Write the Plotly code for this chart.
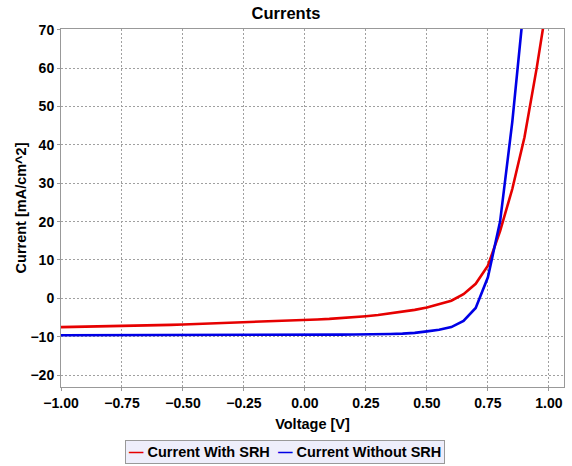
import plotly.graph_objects as go

# voltage steps (V)
voltage = [-1.00, -0.95, -0.90, -0.85, -0.80, -0.75, -0.70, -0.65, -0.60, -0.55,
           -0.50, -0.45, -0.40, -0.35, -0.30, -0.25, -0.20, -0.15, -0.10, -0.05,
           0.00, 0.05, 0.10, 0.15, 0.20, 0.25, 0.30, 0.35, 0.40, 0.45,
           0.50, 0.55, 0.60, 0.65, 0.70, 0.75, 0.80, 0.85, 0.90, 0.95, 1.00]

# current density (mA/cm^2)
with_srh = [-7.5, -7.45, -7.4, -7.35, -7.3, -7.2, -7.15, -7.05, -7.0, -6.9,
            -6.8, -6.7, -6.6, -6.5, -6.4, -6.3, -6.2, -6.05, -5.95, -5.8,
            -5.7, -5.5, -5.35, -5.15, -4.9, -4.65, -4.35, -3.95, -3.5, -3.0,
            -2.4, -1.6, -0.6, 1.1, 3.8, 8.5, 17.5, 28.5, 42.0, 60.0, 80.0]
without_srh = [-9.6, -9.6, -9.6, -9.6, -9.6, -9.6, -9.6, -9.6, -9.6, -9.6,
               -9.6, -9.6, -9.55, -9.55, -9.55, -9.55, -9.55, -9.5, -9.5, -9.5,
               -9.5, -9.5, -9.45, -9.45, -9.4, -9.4, -9.35, -9.3, -9.2, -9.0,
               -8.6, -8.2, -7.5, -5.9, -2.5, 5.5, 20.0, 46.0, 78.0, 125.0, 200.0]

x_ticks = [-1.0, -0.75, -0.5, -0.25, 0.0, 0.25, 0.5, 0.75, 1.0]
y_ticks = [-20, -10, 0, 10, 20, 30, 40, 50, 60, 70]

names = ['Current With SRH', 'Current Without SRH']
colors = ['#E60000', '#0000E6']

fig = go.Figure()

fig.add_trace(go.Scatter(x=voltage, y=with_srh, mode='lines', name=names[0],
                         line=dict(color=colors[0], width=2.6)))
fig.add_trace(go.Scatter(x=voltage, y=without_srh, mode='lines', name=names[1],
                         line=dict(color=colors[1], width=2.6)))

font_b = 'Liberation Sans'
axis_common = dict(
    showgrid=True, gridcolor='#A0A0A0', griddash='2px,2px', gridwidth=1,
    showline=True, linecolor='#999999', linewidth=1, mirror=True,
    ticks='outside', ticklen=3, tickcolor='#999999',
    zeroline=False, automargin=False,
    tickfont=dict(family=font_b, size=14, color='black', weight='bold'),
)

# legend drawn as a boxed annotation (short line symbols like the original)
legend_text = '  '.join(
    "<span style='color:%s'>\u2014</span> %s" % (c, n) for c, n in zip(colors, names)
)

fig.update_layout(
    width=572, height=466,
    margin=dict(l=61, r=8, t=29, b=79),
    paper_bgcolor='white', plot_bgcolor='white',
    showlegend=False,
    title=dict(text='<b>Currents</b>', x=0.5, xanchor='center', y=0.972, yanchor='middle',
               font=dict(family=font_b, size=16.5, color='black')),
    xaxis=dict(axis_common, range=[-1.0, 1.062], tickvals=x_ticks, tickformat='.2f',
               title=dict(text='<b>Voltage [V]</b>', standoff=9,
                          font=dict(family=font_b, size=14.5, color='black'))),
    yaxis=dict(axis_common, range=[-23.1, 70.2], tickvals=y_ticks,
               title=dict(text='<b>Current [mA/cm^2]</b>', standoff=0,
                          font=dict(family=font_b, size=14.5, color='black'))),
    annotations=[dict(
        text='<b>' + legend_text + '</b>', xref='paper', yref='paper',
        x=0.446, y=-0.1816, xanchor='center', yanchor='middle', showarrow=False,
        bgcolor='#EEEEFB', bordercolor='#999999', borderwidth=1, borderpad=3,
        font=dict(family=font_b, size=14.5, color='black'),
    )],
)

# drop the default page margin so the figure sits at the window corner
fig.write_html("out.html", config={'displayModeBar': False},
               post_script="document.body.style.margin='0';")
